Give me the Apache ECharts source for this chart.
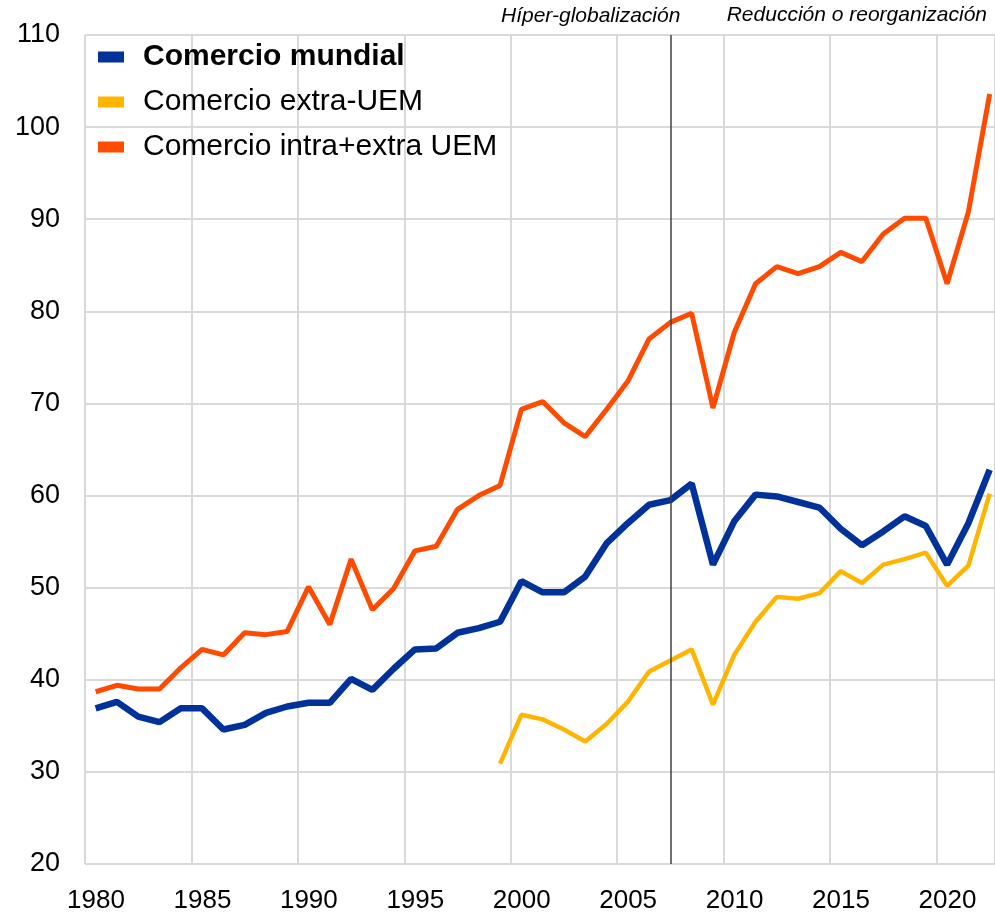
<!DOCTYPE html>
<html>
<head>
<meta charset="utf-8">
<script src="https://cdn.jsdelivr.net/npm/echarts@6/dist/echarts.min.js"></script>
<style>html,body{margin:0;padding:0;background:#fff}#c{width:995px;height:916px}</style>
</head>
<body>
<div id="c"></div>
<script>
const years = [1980,1981,1982,1983,1984,1985,1986,1987,1988,1989,1990,1991,1992,1993,1994,1995,1996,1997,1998,1999,2000,2001,2002,2003,2004,2005,2006,2007,2008,2009,2010,2011,2012,2013,2014,2015,2016,2017,2018,2019,2020,2021,2022];
const comercioMundial = [36.9,37.6,36.0,35.4,36.9,36.9,34.6,35.1,36.4,37.1,37.5,37.5,40.1,38.9,41.2,43.3,43.4,45.1,45.6,46.3,50.7,49.5,49.5,51.2,54.8,57.0,59.0,59.5,61.3,52.5,57.2,60.1,59.9,59.3,58.7,56.4,54.6,56.1,57.75,56.7,52.5,57.0,62.8];
const comercioExtraUEM = [null,null,null,null,null,null,null,null,null,null,null,null,null,null,null,null,null,null,null,30.9,36.2,35.7,34.6,33.3,35.2,37.6,40.9,42.1,43.3,37.3,42.7,46.3,49.0,48.8,49.4,51.8,50.5,52.5,53.1,53.8,50.2,52.4,60.2];
const comercioIntraExtra = [38.7,39.4,39.0,39.0,41.3,43.3,42.7,45.1,44.9,45.25,50.1,46.0,53.1,47.6,49.9,54.0,54.5,58.5,60.0,61.1,69.35,70.2,67.9,66.4,69.35,72.4,77.0,78.8,79.8,69.5,77.7,83.0,84.85,84.1,84.85,86.4,85.4,88.4,90.1,90.1,83.0,90.8,103.6];
const seriesNames = ['Comercio mundial','Comercio extra-UEM','Comercio intra+extra UEM'];
const periodLabels = ['Híper-globalización','Reducción o reorganización'];
const breakYear = 2007.5;

const pts = arr => years.map((y,i) => [y + 0.5, arr[i]]);
const FONT = '"Liberation Sans", Arial, Helvetica, sans-serif';

const chart = echarts.init(document.getElementById('c'));
chart.setOption({
  animation: false,
  backgroundColor: '#fff',
  grid: {left: 85, right: 0, top: 35, bottom: 52, containLabel: false},
  legend: {
    left: 93, top: 37, orient: 'vertical', itemGap: 15, itemWidth: 26, itemHeight: 11,
    icon: 'rect', itemStyle: {borderWidth: 0},
    textStyle: {fontFamily: FONT, fontSize: 30, color: '#000', padding: [0,0,0,14],
      rich: {b: {fontWeight: 'bold', fontSize: 30, fontFamily: FONT, color: '#000'}}},
    formatter: n => n === seriesNames[0] ? '{b|' + n + '}' : n,
    data: seriesNames,
    selectedMode: false
  },
  xAxis: {
    type: 'value', min: 1980, max: 2022.75, interval: 5,
    axisLine: {show: false}, axisTick: {show: false},
    splitLine: {show: true, lineStyle: {color: '#d9d9d9', width: 2}},
    axisLabel: {fontFamily: FONT, fontSize: 26, color: '#000', margin: 24, showMaxLabel: false, padding: [0,0,0,22],
      formatter: v => String(v)}
  },
  yAxis: {
    type: 'value', min: 20, max: 110, interval: 10,
    axisLine: {show: false}, axisTick: {show: false},
    splitLine: {show: true, lineStyle: {color: '#d9d9d9', width: 2}},
    axisLabel: {fontFamily: FONT, fontSize: 27, color: '#000', margin: 25}
  },
  series: [
    {name: seriesNames[0], type: 'line', data: pts(comercioMundial), showSymbol: false, symbol: 'none',
      lineStyle: {color: '#003299', width: 6.5}, itemStyle: {color: '#003299'}, z: 4,
      markLine: {silent: true, symbol: 'none', label: {show: false},
        lineStyle: {color: '#404040', width: 1.5, type: 'solid'},
        data: [{xAxis: breakYear}]}},
    {name: seriesNames[1], type: 'line', data: pts(comercioExtraUEM), showSymbol: false, symbol: 'none',
      lineStyle: {color: '#FFB400', width: 4.5}, itemStyle: {color: '#FFB400'}, z: 3},
    {name: seriesNames[2], type: 'line', data: pts(comercioIntraExtra), showSymbol: false, symbol: 'none',
      lineStyle: {color: '#FF4B00', width: 5}, itemStyle: {color: '#FF4B00'}, z: 2}
  ],
  graphic: [
    {type: 'text', left: 501, top: 6, style: {text: periodLabels[0], fontFamily: FONT, fontStyle: 'italic', fontSize: 21, fill: '#000'}},
    {type: 'text', right: 8, top: 5, style: {text: periodLabels[1], fontFamily: FONT, fontStyle: 'italic', fontSize: 21, fill: '#000'}}
  ]
});
</script>
</body>
</html>
